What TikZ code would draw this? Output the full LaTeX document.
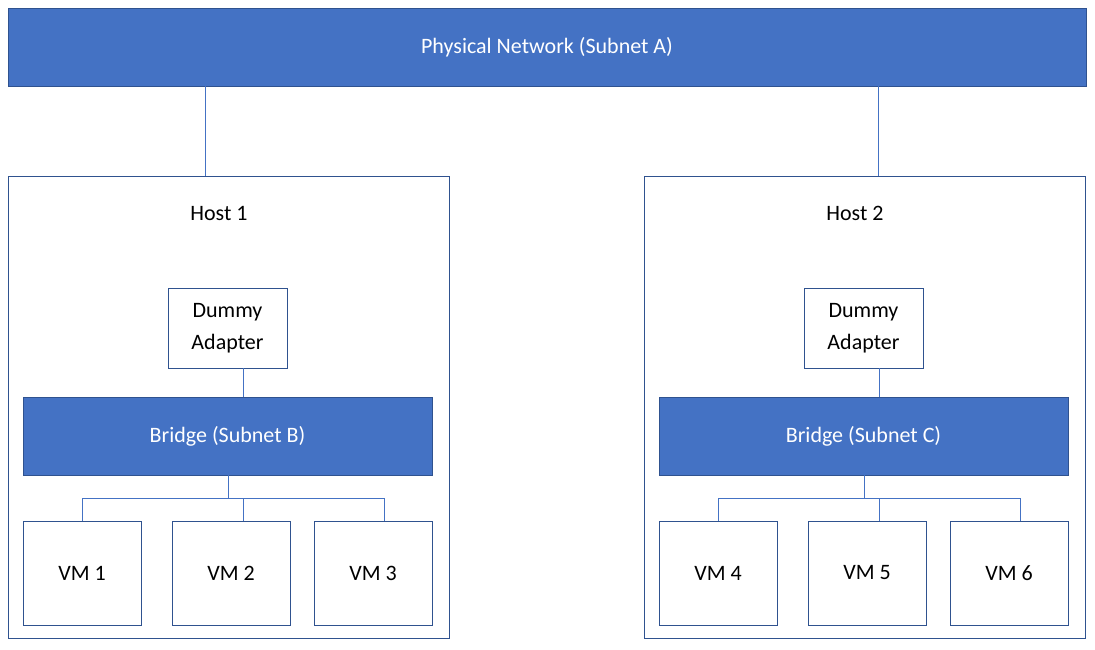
\documentclass[tikz,border=0pt]{standalone}
\usepackage{fontspec}
\setmainfont{Carlito}
\usetikzlibrary{positioning,calc}
\definecolor{netblue}{HTML}{4472C4}
\definecolor{netedge}{HTML}{2F528F}
\tikzset{
  net/.style={draw=netedge, fill=netblue, text=white, line width=0.8pt, inner sep=0pt},
  box/.style={draw=netedge, fill=white, line width=0.8pt, inner sep=0pt},
  wire/.style={draw=netblue, line width=0.6pt},
}
\begin{document}
\begin{tikzpicture}[x=1pt, y=-1pt, font=\fontsize{22}{27}\selectfont]
  \useasboundingbox (0,0) rectangle (1095,649);

  \node [net, minimum width=1078pt, minimum height=78pt] (phys) at (547,47) {Physical Network (Subnet A)};

  \foreach \h/\dx/\sub/\va/\vb/\vc in {1/0/B/1/2/3, 2/636/C/4/5/6} {
    \begin{scope}[xshift=\dx pt]
      \node [box, minimum width=441pt, minimum height=462pt] (host\h) at (228.5,407) {};
      \node (hostlbl\h) at (219,213) {Host \h};
      \node [box, minimum width=119pt, minimum height=80pt, align=center, font=\fontsize{22}{32}\selectfont] (dummy\h) at (227.5,328) {Dummy\\Adapter};
      \node [net, minimum width=409pt, minimum height=78pt] (bridge\h) at (227.5,436) {Bridge (Subnet \sub)};
      \node [box, minimum width=118pt, minimum height=104pt] (vma\h) at (82,573) {VM \va};
      \node [box, minimum width=118pt, minimum height=104pt] (vmb\h) at (231,573) {VM \vb};
      \node [box, minimum width=118pt, minimum height=104pt] (vmc\h) at (373,573) {VM \vc};
      \coordinate (bus\h) at (228,498);
      \coordinate (busa\h) at (82,498);
      \coordinate (busb\h) at (243,498);
      \coordinate (busc\h) at (384,498);
      \coordinate (dtop\h) at (243,0);
    \end{scope}
  }

  % uplinks
  \draw [wire] (phys.south -| 205,0) -- (host1.north -| 205,0);
  \draw [wire] (phys.south -| 878,0) -- (host2.north -| 878,0);

  % adapters and buses
  \foreach \h in {1,2} {
    \draw [wire] (dummy\h.south -| dtop\h) -- (bridge\h.north -| dtop\h);
    \draw [wire] (bridge\h.south |- bus\h) -- (bus\h);
    \draw [wire] (bridge\h.south -| bus\h) -- (bus\h);
    \draw [wire] (busa\h) -- (busc\h);
    \draw [wire] (busa\h) -- (vma\h.north -| busa\h);
    \draw [wire] (busb\h) -- (vmb\h.north -| busb\h);
    \draw [wire] (busc\h) -- (vmc\h.north -| busc\h);
  }
\end{tikzpicture}
\end{document}
